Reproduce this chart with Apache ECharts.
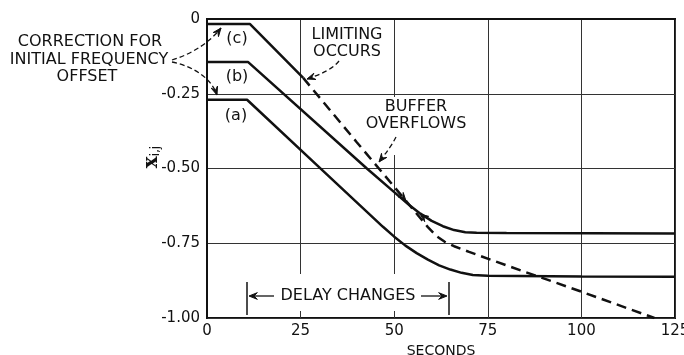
<!DOCTYPE html>
<html><head><meta charset="utf-8">
<script src="https://cdn.jsdelivr.net/npm/echarts@6/dist/echarts.min.js"></script>
<style>html,body{margin:0;padding:0;background:#fff}#c{width:684px;height:355px}</style>
</head><body><div id="c"></div>
<script>
// ---- data ----
const xTicks = [0, 25, 50, 75, 100, 125];
const yTicks = [0, -0.25, -0.5, -0.75, -1.0];
// curve (a)
const aT = [0, 10.7, 30, 41, 47, 50, 53, 56, 59, 62, 65, 68, 71, 75, 100, 125];
const aV = [-0.27, -0.27, -0.496, -0.625, -0.695, -0.728, -0.758, -0.783, -0.805, -0.824, -0.838, -0.849, -0.856, -0.859, -0.861, -0.862];
// curve (b)
const bT = [0, 11, 42.7, 50, 54, 57, 60, 63, 66, 69, 72, 80, 125];
const bV = [-0.144, -0.144, -0.5, -0.579, -0.622, -0.651, -0.675, -0.693, -0.706, -0.713, -0.715, -0.716, -0.717];
// curve (c) solid part
const cT = [0, 11.5, 25.7];
const cV = [-0.017, -0.017, -0.197];
// curve (c) after limiting (dashed)
const dT = [25.7, 40, 53.4, 59, 61.5, 63.5, 66, 70, 80, 100, 119.5];
const dV = [-0.197, -0.412, -0.612, -0.696, -0.728, -0.745, -0.760, -0.779, -0.824, -0.912, -1.0];

const pairs = (t, v) => t.map((x, i) => [x, v[i]]);
const INK = '#111';
const FONT = 'DejaVu Sans';

const chart = echarts.init(document.getElementById('c'));

function arrowHead(x, y, theta, L = 9) {
  const a = 0.38;
  const w1 = [x - L * Math.cos(theta - a), y - L * Math.sin(theta - a)];
  const w2 = [x - L * Math.cos(theta + a), y - L * Math.sin(theta + a)];
  const n = [x - 0.55 * L * Math.cos(theta), y - 0.55 * L * Math.sin(theta)];
  return { type: 'polygon', z: 60, shape: { points: [w1, [x, y], w2, n] }, style: { fill: INK, stroke: INK, lineWidth: 1 } };
}
function dashCurve(x1, y1, cx1, cy1, cx2, cy2, x2, y2) {
  return [
    { type: 'bezierCurve', z: 60, shape: { x1, y1, cpx1: cx1, cpy1: cy1, cpx2: cx2, cpy2: cy2, x2, y2 },
      style: { stroke: INK, lineWidth: 1.3, lineDash: [5, 3], fill: null } },
    arrowHead(x2, y2, Math.atan2(y2 - cy2, x2 - cx2), 9)
  ];
}
function txt(x, y, text, size = 16, align = 'center') {
  return { type: 'text', z: 60, x, y, style: { text, fill: INK, font: `${size}px "${FONT}"`, textAlign: align, textVerticalAlign: 'middle' } };
}

const graphics = [
  // gaps in the gridlines
  { type: 'rect', z: 50, shape: { x: 240, y: 274, width: 214, height: 37 }, style: { fill: '#fff' } },
  { type: 'rect', z: 50, shape: { x: 388, y: 97, width: 10, height: 58 }, style: { fill: '#fff' } },
  // curve labels
  txt(237, 39, '(c)'), txt(237, 77, '(b)'), txt(236, 116, '(a)'),
  // correction text
  txt(90, 42, 'CORRECTION FOR'), txt(89, 60, 'INITIAL FREQUENCY'), txt(87, 77, 'OFFSET'),
  ...dashCurve(172, 60, 192, 54, 210, 42, 221, 28),
  ...dashCurve(172, 62, 196, 67, 212, 80, 217, 95),
  // limiting
  txt(347, 35, 'LIMITING'), txt(347, 52, 'OCCURS'),
  ...dashCurve(339, 61, 334, 68, 322, 74, 307, 79),
  // buffer
  txt(416, 107, 'BUFFER'), txt(416, 124, 'OVERFLOWS'),
  ...dashCurve(396, 137, 392, 145, 386, 153, 379, 162),
  // delay changes
  txt(348, 296, 'DELAY CHANGES'),
  { type: 'line', z: 60, shape: { x1: 247, y1: 282, x2: 247, y2: 315 }, style: { stroke: INK, lineWidth: 1.5 } },
  { type: 'line', z: 60, shape: { x1: 449, y1: 282, x2: 449, y2: 315 }, style: { stroke: INK, lineWidth: 1.5 } },
  { type: 'line', z: 60, shape: { x1: 255, y1: 296, x2: 274, y2: 296 }, style: { stroke: INK, lineWidth: 1.3 } },
  { type: 'line', z: 60, shape: { x1: 421, y1: 296, x2: 441, y2: 296 }, style: { stroke: INK, lineWidth: 1.3 } },
  arrowHead(249, 296, Math.PI, 9),
  arrowHead(447, 296, 0, 9),
  // direction markers on curves
  arrowHead(406, 201, Math.atan2(1.2, 1), 9),
  arrowHead(420, 214, Math.atan2(-0.75, -1), 9),
  // y axis name
  { type: 'text', z: 60, x: 152, y: 157, rotation: Math.PI / 2,
    style: { text: '{x|x}{s|i,j}', textAlign: 'center', textVerticalAlign: 'middle',
      rich: { x: { fontSize: 20, fontFamily: 'DejaVu Serif', fontWeight: 'bold', fill: INK, color: INK },
              s: { fontSize: 12, fontFamily: FONT, fill: INK, color: INK, padding: [8, 0, 0, 0] } } } }
];

chart.setOption({
  animation: false,
  backgroundColor: '#fff',
  grid: { left: 207, right: 9, top: 19, bottom: 37, containLabel: false, outerBoundsMode: 'none',
          show: true, borderColor: INK, borderWidth: 2, backgroundColor: 'transparent' },
  xAxis: {
    type: 'value', min: xTicks[0], max: xTicks[xTicks.length - 1], interval: xTicks[1] - xTicks[0],
    name: 'SECONDS', nameLocation: 'middle', nameGap: 22,
    nameTextStyle: { fontFamily: FONT, fontSize: 14, color: INK },
    axisLine: { show: true, lineStyle: { color: INK, width: 2 } },
    axisTick: { show: false },
    axisLabel: { fontFamily: FONT, fontSize: 15, color: INK, margin: 6 },
    splitLine: { show: true, lineStyle: { color: '#333', width: 1 } }
  },
  yAxis: {
    type: 'value', min: yTicks[yTicks.length - 1], max: yTicks[0], interval: Math.abs(yTicks[1] - yTicks[0]),
    axisLine: { show: true, lineStyle: { color: INK, width: 2 } },
    axisTick: { show: false },
    axisLabel: { fontFamily: FONT, fontSize: 15, color: INK, margin: 7,
      formatter: v => (v === 0 ? '0' : v.toFixed(2)) },
    splitLine: { show: true, lineStyle: { color: '#333', width: 1 } }
  },
  series: [
    { type: 'line', name: '(a)', data: pairs(aT, aV), showSymbol: false, lineStyle: { color: INK, width: 2.5 }, z: 3 },
    { type: 'line', name: '(b)', data: pairs(bT, bV), showSymbol: false, lineStyle: { color: INK, width: 2.5 }, z: 3 },
    { type: 'line', name: '(c)', data: pairs(cT, cV), showSymbol: false, lineStyle: { color: INK, width: 2.5 }, z: 3 },
    { type: 'line', name: '(c) limited', data: pairs(dT, dV), showSymbol: false, lineStyle: { color: INK, width: 2.5, type: [10, 6] }, z: 3 }
  ],
  graphic: graphics
});
</script>
</body></html>
